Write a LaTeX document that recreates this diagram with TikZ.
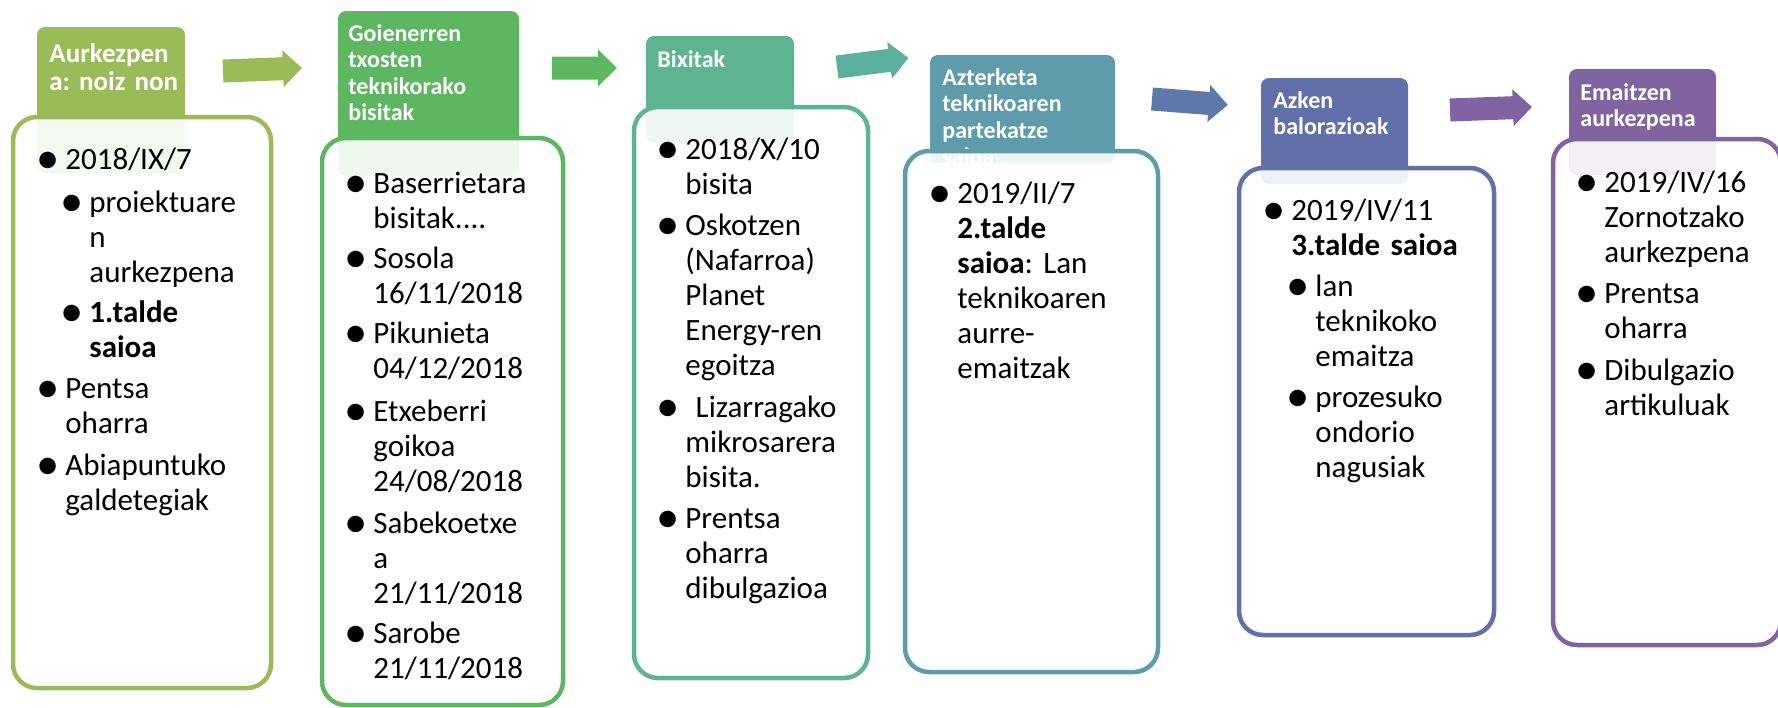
\documentclass[tikz,border=0pt]{standalone}
\usepackage{fontspec}
\setmainfont{Carlito}
\usepackage{graphicx}
\usepackage{tikz}
\usetikzlibrary{positioning}

\definecolor{stepA}{HTML}{9BBB59}
\definecolor{stepB}{HTML}{5DB760}
\definecolor{stepC}{HTML}{5EB390}
\definecolor{stepD}{HTML}{5F9CAB}
\definecolor{stepE}{HTML}{6170A9}
\definecolor{stepF}{HTML}{8064A2}
\definecolor{arrAB}{HTML}{9BBB59}
\definecolor{arrBC}{HTML}{5DB761}
\definecolor{arrCD}{HTML}{5CB0A0}
\definecolor{arrDE}{HTML}{5E78AA}
\definecolor{arrEF}{HTML}{7F63A2}

\newcommand{\bul}{\llap{\raisebox{-0.14em}{\scalebox{1.5}{\textbullet}}\hspace{2.8pt}}}

\begin{document}
\begin{tikzpicture}[x=0.5pt,y=-0.5pt,inner sep=0pt]
      % Styles
      \tikzset{stephead/.style={fill=#1,rounded corners=4pt},
               stepbody/.style={draw=#1,line width=2.25pt,fill=white,fill opacity=0.9,rounded corners=12pt},
               headtext/.style={anchor=base west,text=white,text width=90pt,
                                font=\frenchspacing\fontsize{12}{13.25}\selectfont\bfseries},
               itemtext/.style={anchor=base west,text width=130pt,
                                font=\frenchspacing\fontsize{15.5}{17.5}\selectfont}}

      % Canvas (pixel grid of the slide, y downwards)
      \useasboundingbox (0,0) rectangle (1778,707);
      \clip (0,0) rectangle (1778,707);

      % Block arrows between the steps
      \foreach \sx/\sy/\len/\ang/\col in {223/71/79/2.2/arrAB, 552/68/65/0/arrBC,
               837/67/72/7.2/arrCD, 1152/99/76/-4.5/arrDE, 1450/110/82/2.1/arrEF}
        \fill[\col,shift={(\sx,\sy)},rotate=\ang] (0,-11.5) -- ({\len-19},-11.5) -- ({\len-19},-18.5)
              -- (\len,0) -- ({\len-19},18.5) -- ({\len-19},11.5) -- (0,11.5) -- cycle;

      % Headers
      \fill[stephead=stepA] (37,27) rectangle (185,173);
      \fill[stephead=stepB] (338,11) rectangle (519,176);
      \fill[stephead=stepC] (646,36) rectangle (794,143);
      \fill[stephead=stepD] (930,55) rectangle (1115,163);
      \fill[stephead=stepE] (1261,78) rectangle (1408,184);
      \fill[stephead=stepF] (1569,69) rectangle (1716,175);

      \node[headtext,font=\frenchspacing\fontsize{13.5}{14}\selectfont\bfseries] (h1) at (49,62) {Aurkezpen\\a: noiz non};
      \node[headtext] (h2) at (348,41) {Goienerren\\txosten\\teknikorako\\bisitak};
      \node[headtext] (h3) at (657,67) {Bixitak};
      \node[headtext] (h4) at (942,85) {Azterketa\\teknikoaren\\partekatze\\saioa};
      \node[headtext] (h5) at (1273,108) {Azken\\balorazioak};
      \node[headtext] (h6) at (1580,100) {Emaitzen\\aurkezpena};

      % Bodies (drawn over the headers)
      \draw[stepbody=stepA] (13,117) rectangle (271,688);
      \draw[stepbody=stepB] (322,138) rectangle (563,705);
      \draw[stepbody=stepC] (634,107) rectangle (868,678);
      \draw[stepbody=stepD] (905,151) rectangle (1158,672);
      \draw[stepbody=stepE] (1239,168) rectangle (1494,635);
      \draw[stepbody=stepF] (1553,139) rectangle (1781,645);

      % Step 1
      \node[itemtext] (b1a) at (65,169) {\bul 2018/IX/7};
      \node[itemtext] (b1b) at (89,212) {\bul proiektuare\\n\\aurkezpena};
      \node[itemtext] (b1c) at (89,322) {\bul\textbf{1.talde}\\\textbf{saioa}};
      \node[itemtext] (b1d) at (65,398) {\bul Pentsa\\oharra};
      \node[itemtext] (b1e) at (65,475) {\bul Abiapuntuko\\galdetegiak};

      % Step 2
      \node[itemtext] (b2a) at (373,193) {\bul Baserrietara\\bisitak....};
      \node[itemtext] (b2b) at (373,268) {\bul Sosola\\16/11/2018};
      \node[itemtext] (b2c) at (373,343) {\bul Pikunieta\\04/12/2018};
      \node[itemtext] (b2d) at (373,421) {\bul Etxeberri\\goikoa\\24/08/2018};
      \node[itemtext] (b2e) at (373,533) {\bul Sabekoetxe\\a\\21/11/2018};
      \node[itemtext] (b2f) at (373,643) {\bul Sarobe\\21/11/2018};

      % Step 3
      \node[itemtext] (b3a) at (685,159) {\bul 2018/X/10\\bisita};
      \node[itemtext] (b3b) at (685,235) {\bul Oskotzen\\(Nafarroa)\\Planet\\Energy-ren\\egoitza};
      \node[itemtext] (b3c) at (685,417) {\bul\ Lizarragako\\mikrosarera\\bisita.};
      \node[itemtext] (b3d) at (685,528) {\bul Prentsa\\oharra\\dibulgazioa};

      % Step 4
      \node[itemtext] (b4a) at (957,203) {\bul 2019/II/7\\\textbf{2.talde}\\\textbf{saioa}: Lan\\teknikoaren\\aurre-\\emaitzak};

      % Step 5
      \node[itemtext] (b5a) at (1291,220) {\bul 2019/IV/11\\\textbf{3.talde saioa}};
      \node[itemtext] (b5b) at (1315,296) {\bul lan\\teknikoko\\emaitza};
      \node[itemtext] (b5c) at (1315,407) {\bul prozesuko\\ondorio\\nagusiak};

      % Step 6
      \node[itemtext] (b6a) at (1604,192) {\bul 2019/IV/16\\Zornotzako\\aurkezpena};
      \node[itemtext] (b6b) at (1604,303) {\bul Prentsa\\oharra};
      \node[itemtext] (b6c) at (1604,380) {\bul Dibulgazio\\artikuluak};
    \end{tikzpicture}
\end{document}
